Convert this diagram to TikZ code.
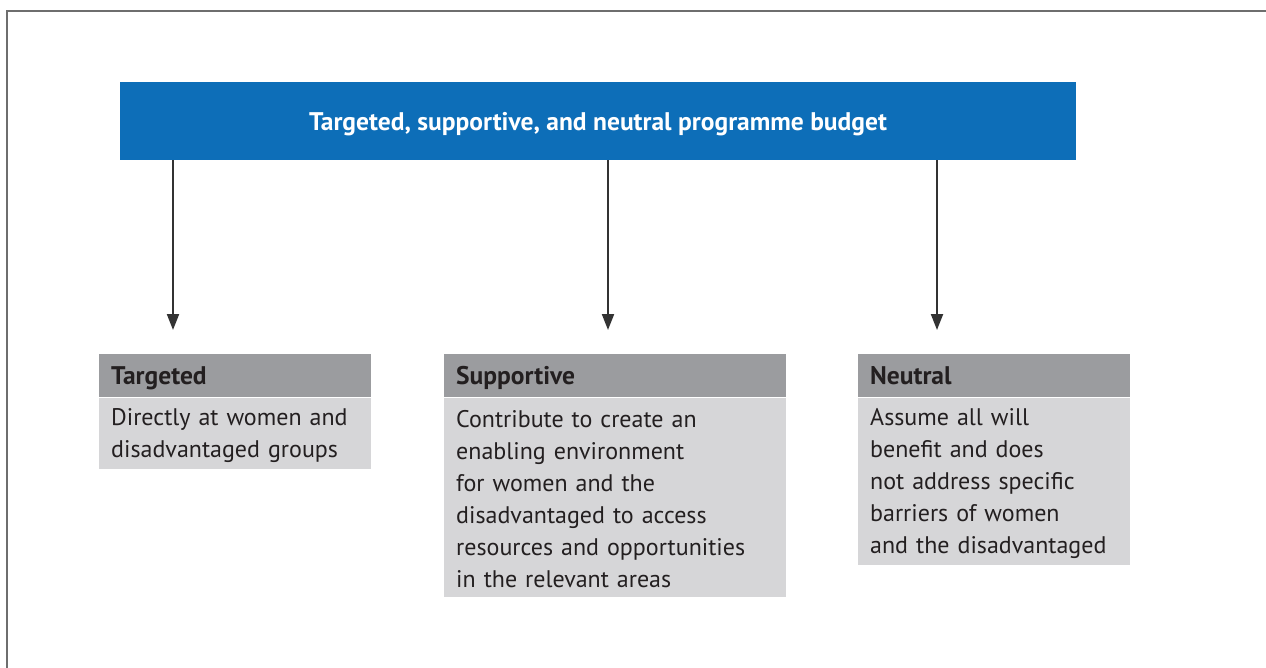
\documentclass[tikz,border=0pt]{standalone}
\usepackage{fontspec}
\setmainfont{PT Sans}
\usetikzlibrary{arrows.meta}
\definecolor{budgetblue}{HTML}{0D6EB8}
\definecolor{headgray}{HTML}{9B9C9F}
\definecolor{bodygray}{HTML}{D6D6D8}
\definecolor{inkdark}{HTML}{231F20}
\definecolor{framegray}{HTML}{6E6E6E}
\definecolor{arrowdark}{HTML}{333333}
\newcommand{\firstline}{\rule{0pt}{21.5pt}}
\begin{document}
\begin{tikzpicture}[x=1pt,y=-1pt,
  headbox/.style={anchor=north west, fill=headgray, text=inkdark, inner xsep=12pt, inner ysep=0pt,
    minimum height=43pt, text depth=0pt, font=\fontsize{25.5}{30}\selectfont\bfseries, align=left},
  bodybox/.style={anchor=north west, fill=bodygray, text=inkdark, inner xsep=12pt, inner ysep=5pt,
    font=\fontsize{24}{32}\selectfont, align=left},
  flow/.style={draw=arrowdark, line width=2pt, -{Triangle[width=12pt,length=16pt]}}]
\useasboundingbox (0,0) rectangle (1266,668);
\fill[white] (0,0) rectangle (1266,668);
% frame along the top and left edges
\draw[framegray, line width=2pt] (7,668) -- (7,11) -- (1266,11);
% programme budget banner
\node[fill=budgetblue, minimum width=956pt, minimum height=78pt, inner sep=0pt] (budget) at (598,121) {};
\node[text=white, inner sep=0pt, font=\fontsize{25.5}{28}\selectfont\bfseries] (title) at (598,124)
  {Targeted, supportive, and neutral programme budget};
% category heads
\node[headbox, minimum width=272pt, text width=248pt] (th) at (99,354) {Targeted};
\node[headbox, minimum width=342pt, text width=318pt] (sh) at (444,354) {Supportive};
\node[headbox, minimum width=272pt, text width=248pt] (nh) at (858,354) {Neutral};
% category descriptions
\node[bodybox, text width=248pt, minimum height=71pt] (tb) at (th.south west) {\firstline Directly at women and\\disadvantaged groups};
\node[bodybox, text width=318pt, minimum height=199pt] (sb) at (sh.south west) {\firstline Contribute to create an\\enabling environment\\for women and the\\disadvantaged to access\\resources and opportunities\\in the relevant areas};
\node[bodybox, text width=248pt, minimum height=167pt] (nb) at (nh.south west) {\firstline Assume all will\\benefit and does\\not address specific\\barriers of women\\and the disadvantaged};
% arrow ends
\coordinate (ta) at (173,330);
\coordinate (sa) at (608,330);
\coordinate (na) at (937,330);
\draw[flow] (budget.south -| ta) -- (ta);
\draw[flow] (budget.south -| sa) -- (sa);
\draw[flow] (budget.south -| na) -- (na);
\end{tikzpicture}
\end{document}
